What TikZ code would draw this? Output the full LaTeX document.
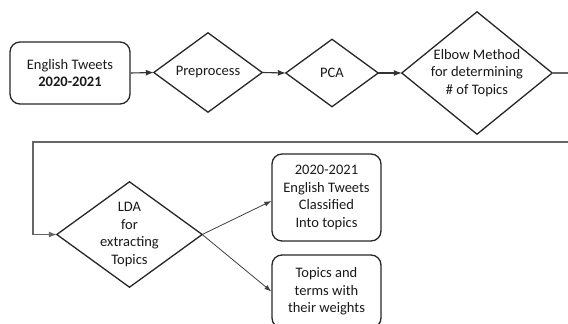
\documentclass[tikz,border=0pt]{standalone}
\usepackage{fontspec}
\setmainfont{Carlito}
\usetikzlibrary{arrows.meta}
\begin{document}
\begin{tikzpicture}[x=1pt,y=-1pt,
  every node/.style={font=\fontsize{14.5}{17.5}\selectfont, text=black!90, align=center, inner sep=0pt},
  rbox/.style={draw=black!85, line width=1.3pt, rounded corners=10pt},
  dbox/.style={draw=none},
  dia/.style={draw=black!85, line width=1.3pt, line join=miter},
  flow/.style={draw=black!80, line width=1.1pt, -{Latex[length=8pt,width=6pt]}},
  loopline/.style={draw=black!60, line width=1.1pt, -{Latex[length=8pt,width=6pt]}},
  thinflow/.style={draw=black!75, line width=0.8pt, -{Latex[length=7pt,width=5pt]}}
]
\useasboundingbox (0,0) rectangle (568,324);

\node[rbox, minimum width=120pt, minimum height=62pt] (tweets) at (70,73) {English Tweets\\\textbf{2020-2021}};

\node[dbox, minimum width=108pt, minimum height=79pt] (pre) at (208,72.5) {Preprocess};
\draw[dia] (pre.north) -- (pre.east) -- (pre.south) -- (pre.west) -- cycle;

\node[dbox, minimum width=92pt, minimum height=67pt] (pca) at (332,73) {PCA};
\draw[dia] (pca.north) -- (pca.east) -- (pca.south) -- (pca.west) -- cycle;

\node[dbox, minimum width=150pt, minimum height=122pt] (elbow) at (477,73) {Elbow Method\\for determining\\\# of Topics};
\draw[dia] (elbow.north) -- (elbow.east) -- (elbow.south) -- (elbow.west) -- cycle;

\node[dbox, minimum width=145pt, minimum height=105pt] (lda) at (129.5,234.5) {LDA\\for\\extracting\\Topics};
\draw[dia] (lda.north) -- (lda.east) -- (lda.south) -- (lda.west) -- cycle;

\node[rbox, minimum width=109pt, minimum height=87pt] (out1) at (326.5,197.5) {2020-2021\\English Tweets\\Classified\\Into topics};
\node[rbox, minimum width=109pt, minimum height=73pt] (out2) at (326.5,291.5) {Topics and\\terms with\\their weights};

\coordinate (r1) at (576,73);
\coordinate (r2) at (576,142);
\coordinate (c1) at (33,142);

\draw[flow] (tweets.east) -- (pre.west);
\draw[flow] (pre.east) -- (pca.west);
\draw[flow] (pca.east) -- (elbow.west);
\draw[loopline] (elbow.east) -- (r1) -- (r2) -- (c1) |- (lda.west);
\draw[thinflow] (lda.east) -- ([yshift=-3.5pt]out1.west);
\draw[thinflow] (lda.east) -- (out2.west);
\end{tikzpicture}
\end{document}
